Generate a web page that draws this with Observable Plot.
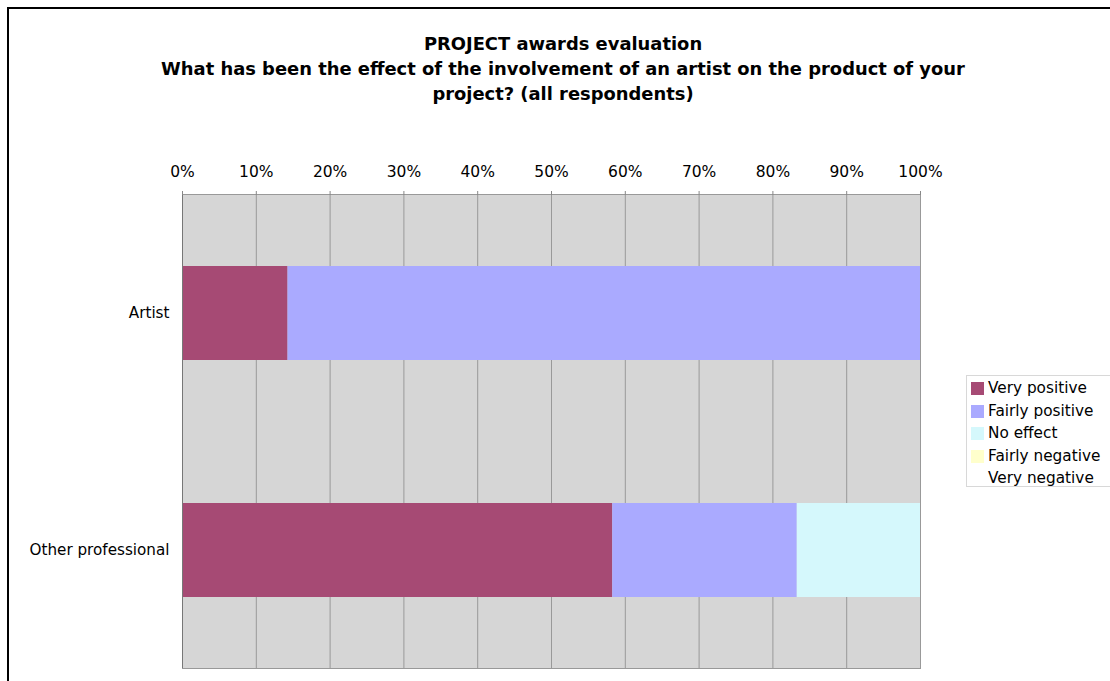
<!DOCTYPE html>
<html>
<head>
<meta charset="utf-8">
<script src="https://cdn.jsdelivr.net/npm/d3@7"></script>
<script src="https://cdn.jsdelivr.net/npm/@observablehq/plot@0.6"></script>
<style>
  html, body { margin: 0; padding: 0; width: 1110px; height: 681px; overflow: hidden; background: #fff; font-family: "DejaVu Sans", Verdana, sans-serif; }
  #frame { position: absolute; left: 7px; top: 7px; width: 1200px; height: 800px; border: 2px solid #000; box-sizing: border-box; }
  #title { position: absolute; left: 0; top: 31px; width: 1126px; text-align: center; font-weight: bold; font-size: 17.9px; line-height: 25px; color: #000; }
  #chart { position: absolute; left: 0; top: 140px; }
  #legend { position: absolute; left: 966px; top: 375px; width: 200px; height: 112px; border: 1px solid #d8d8d8; background: #fff; box-sizing: border-box; padding-top: 1px; }
  .item { position: relative; height: 22.5px; font-size: 15.3px; line-height: 22.5px; color: #000; }
  .sw { position: absolute; left: 4px; top: 5px; width: 13px; height: 13px; }
  .lab { position: absolute; left: 21px; top: 0; white-space: nowrap; }
</style>
</head>
<body>
<div id="frame"></div>
<div id="title"></div>
<div id="chart"></div>
<div id="legend"></div>
<script>
const titleLines = ["PROJECT awards evaluation", "What has been the effect of the involvement of an artist on the product of your", "project? (all respondents)"];
const categories = ["Artist", "Other professional"];
const responses = ["Very positive", "Fairly positive", "No effect", "Fairly negative", "Very negative"];
const colors = ["#a64a74", "#aaaaff", "#d5f8fc", "#ffffcc", "#ffffff"];
const artistShares = [0.143, 0.857, 0, 0, 0];
const otherShares = [0.583, 0.25, 0.167, 0, 0];
const xTicks = [0, 0.1, 0.2, 0.3, 0.4, 0.5, 0.6, 0.7, 0.8, 0.9, 1.0];

document.getElementById("title").innerHTML = titleLines.join("<br>");

const shares = [artistShares, otherShares];
const data = [];
categories.forEach((c, i) => responses.forEach((r, j) => data.push({category: c, response: r, value: shares[i][j]})));

function boundaryTicks(index, scales, values, dimensions) {
  const g = d3.create("svg:g");
  const x0 = dimensions.marginLeft;
  const top = dimensions.marginTop;
  const bottom = dimensions.height - dimensions.marginBottom;
  const n = scales.y.domain().length;
  for (let k = 0; k <= n; k++) {
    const yy = top + (bottom - top) * k / n;
    g.append("line").attr("x1", x0 - 5).attr("x2", x0).attr("y1", yy).attr("y2", yy).attr("stroke", "#888");
  }
  return g.node();
}

const chart = Plot.plot({
  width: 1110,
  height: 541,
  marginTop: 54,
  marginBottom: 13,
  marginLeft: 182,
  marginRight: 190,
  style: {fontFamily: "'DejaVu Sans', Verdana, sans-serif", fontSize: "15px", color: "#000", background: "transparent"},
  x: {domain: [0, 1]},
  y: {domain: categories, paddingInner: 0.605, paddingOuter: 0.3},
  color: {domain: responses, range: colors},
  marks: [
    Plot.frame({fill: "#d6d6d6", stroke: null}),
    Plot.gridX(xTicks, {stroke: "#999", strokeOpacity: 1}),
    Plot.barX(data, Plot.stackX({x: "value", y: "category", fill: "response", order: responses})),
    Plot.frame({stroke: "#999"}),
    Plot.ruleX([0], {stroke: "#777"}),
    Plot.axisX(xTicks, {anchor: "top", tickFormat: d3.format(".0%"), tickSize: 4, tickPadding: 14, stroke: "#888", fontSize: 15.5, label: null}),
    Plot.axisY({tickSize: 0, tickPadding: 13, fontSize: 15.2, label: null}),
    Plot.ruleY([0], {render: boundaryTicks})
  ]
});
document.getElementById("chart").appendChild(chart);

const legend = document.getElementById("legend");
responses.forEach((r, i) => {
  const item = document.createElement("div");
  item.className = "item";
  const sw = document.createElement("div");
  sw.className = "sw";
  sw.style.background = colors[i];
  const lab = document.createElement("div");
  lab.className = "lab";
  lab.textContent = r;
  item.appendChild(sw);
  item.appendChild(lab);
  legend.appendChild(item);
});
</script>
</body>
</html>
